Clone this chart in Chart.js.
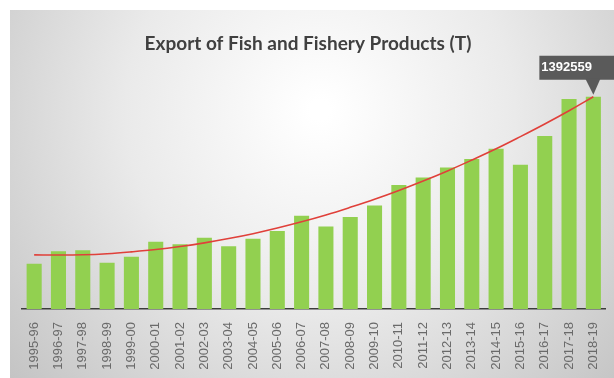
<!DOCTYPE html>
<html>
<head>
<meta charset="utf-8">
<script src="https://cdn.jsdelivr.net/npm/chart.js@4/dist/chart.umd.min.js"></script>
<style>
  html, body { margin: 0; padding: 0; background: #fff; }
  #wrap { width: 614px; height: 378px; }
</style>
</head>
<body>
<div id="wrap"><canvas id="myChart"></canvas></div>
<script>
// Años fiscales (eje X)
const years = ['1995-96', '1996-97', '1997-98', '1998-99', '1999-00', '2000-01', '2001-02', '2002-03',
    '2003-04', '2004-05', '2005-06', '2006-07', '2007-08', '2008-09', '2009-10', '2010-11',
    '2011-12', '2012-13', '2013-14', '2014-15', '2015-16', '2016-17', '2017-18', '2018-19'];

// Exportaciones en toneladas
const exportTonnes = [296277, 378199, 385818, 302934, 343031, 440473, 424470, 467297,
    412017, 461329, 512164, 612641, 541701, 602835, 678436, 813091,
    862021, 928215, 983756, 1051243, 945892, 1134948, 1377244, 1392559];

// Línea de tendencia
const trendTonnes = [355000, 354000, 356000, 363000, 375000, 390000, 410000, 434000,
    462000, 494000, 531000, 572000, 617000, 667000, 720000, 778000,
    840000, 906000, 977000, 1051000, 1131000, 1214000, 1301000, 1393000];

const titleText = 'Export of Fish and Fishery Products (T)';

// Fondo con degradado radial
const bgPlugin = {
    id: 'bgPlugin',
    beforeDraw(chart) {
        const c = chart.ctx;
        c.save();
        c.fillStyle = '#ffffff';
        c.fillRect(0, 0, chart.width, chart.height);
        const g = c.createRadialGradient(320, 110, 10, 320, 110, 420);
        g.addColorStop(0, '#ffffff');
        g.addColorStop(0.45, '#eaeaea');
        g.addColorStop(1, '#c2c2c2');
        c.fillStyle = g;
        c.fillRect(10, 10, chart.width - 10, chart.height - 10);
        // Título
        c.fillStyle = '#404040';
        c.font = 'bold 19px Lato, "Open Sans", sans-serif';
        c.textAlign = 'center';
        c.textBaseline = 'middle';
        c.fillText(titleText, 308, 44);
        c.restore();
    }
};

// Etiqueta del último valor
const calloutPlugin = {
    id: 'calloutPlugin',
    afterDatasetsDraw(chart) {
        const meta = chart.getDatasetMeta(0);
        const last = meta.data[meta.data.length - 1];
        const c = chart.ctx;
        const x = last.x, y = last.y;
        c.save();
        c.fillStyle = '#5a5a5a';
        c.beginPath();
        c.rect(x - 54, y - 41, 80, 24);
        c.fill();
        c.beginPath();
        c.moveTo(x - 8, y - 18);
        c.lineTo(x + 7, y - 18);
        c.lineTo(x, y - 2);
        c.closePath();
        c.fill();
        c.fillStyle = '#ffffff';
        c.font = 'bold 13px "Liberation Sans", Arial, sans-serif';
        c.textBaseline = 'middle';
        c.fillText(String(exportTonnes[exportTonnes.length - 1]), x - 52, y - 29);
        c.restore();
    }
};

const ctx = document.getElementById('myChart').getContext('2d');
const myChart = new Chart(ctx, {
    type: 'bar',
    data: {
        labels: years,
        datasets: [{
            type: 'bar',
            label: 'Export',
            data: exportTonnes,
            backgroundColor: '#92d050',
            barPercentage: 0.62,
            categoryPercentage: 1,
            order: 2
        }, {
            type: 'line',
            label: 'Trend',
            data: trendTonnes,
            borderColor: '#e0403a',
            borderWidth: 1.6,
            pointRadius: 0,
            tension: 0.4,
            fill: false,
            order: 1
        }]
    },
    options: {
        responsive: true,
        maintainAspectRatio: false,
        animation: false,
        layout: { padding: { left: 22, right: 2, top: 88, bottom: 0 } },
        plugins: {
            legend: { display: false },
            tooltip: { enabled: false },
            title: { display: false }
        },
        scales: {
            x: {
                grid: { display: false },
                border: { display: true, color: '#3c3c3c', width: 1.5 },
                ticks: {
                    minRotation: 90,
                    maxRotation: 90,
                    autoSkip: false,
                    color: '#6a6a6a',
                    padding: 5,
                    font: { family: '"Liberation Sans", Arial, sans-serif', size: 13 }
                },
                afterFit(scale) { scale.height = 69; }
            },
            y: {
                display: false,
                min: 0,
                max: 1450000
            }
        }
    },
    plugins: [bgPlugin, calloutPlugin]
});
</script>
</body>
</html>
